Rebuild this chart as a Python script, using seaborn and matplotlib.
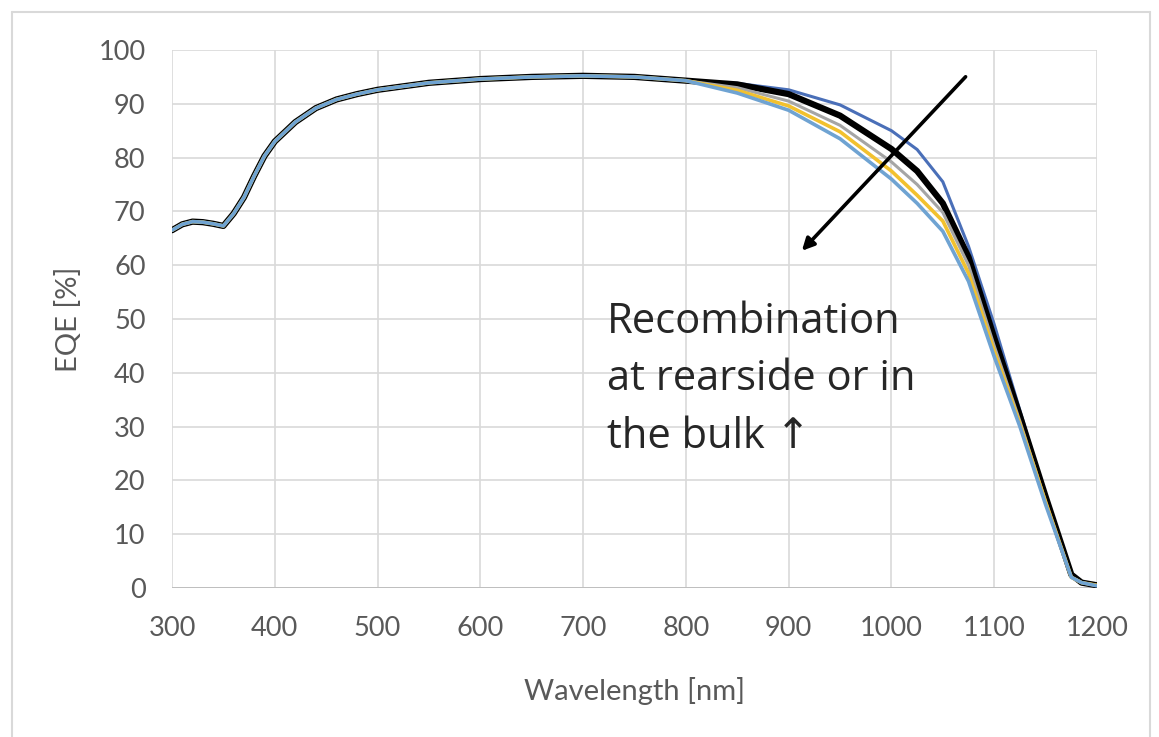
import matplotlib
matplotlib.use("Agg")
import matplotlib.pyplot as plt
import seaborn as sns
import pandas as pd
from matplotlib.lines import Line2D

# --- data ---
wavelength = [300, 310, 320, 330, 340, 350, 360, 370, 380, 390, 400, 420, 440, 460, 480,
              500, 550, 600, 650, 700, 750, 800,
              850, 900, 950, 1000, 1025, 1050, 1075, 1100, 1125, 1150, 1175, 1185, 1200]

# shared part of the curves (300-800 nm)
eqe_common = [66.5, 67.6, 68.1, 68.0, 67.7, 67.3, 69.6, 72.6, 76.6, 80.3, 83.0, 86.6, 89.2,
              90.8, 91.8, 92.6, 93.9, 94.6, 95.0, 95.2, 95.0, 94.3]

# long-wavelength tails (850-1200 nm), one per sample
tail_blue = [93.8, 92.6, 89.8, 85.0, 81.5, 75.5, 63.5, 49.0, 33.0, 17.0, 2.5, 1.0, 0.5]
tail_black = [93.6, 91.8, 87.8, 81.6, 77.5, 71.5, 61.5, 46.5, 32.0, 17.0, 2.5, 1.0, 0.5]
tail_gray = [93.0, 90.5, 86.0, 79.2, 75.0, 69.8, 60.0, 45.0, 31.0, 16.0, 2.0, 1.0, 0.5]
tail_gold = [92.5, 89.6, 84.8, 77.5, 73.0, 68.2, 58.5, 44.0, 30.5, 16.0, 2.0, 1.0, 0.5]
tail_lightblue = [92.0, 88.8, 83.5, 76.0, 71.5, 66.3, 57.0, 43.0, 30.0, 15.5, 2.0, 1.0, 0.4]

series = ["s1", "s2", "s3", "s4", "s5"]
tails = [tail_blue, tail_black, tail_gray, tail_gold, tail_lightblue]
colors = {"s1": "#4A6FB8", "s2": "#000000", "s3": "#A5A5A5", "s4": "#F2C12E", "s5": "#6FA3D2"}
widths = {"s1": 2.2, "s2": 4.5, "s3": 2.2, "s4": 2.6, "s5": 2.6}

rows = []
for name, tail in zip(series, tails):
    for wl, v in zip(wavelength, eqe_common + tail):
        rows.append({"wavelength": wl, "eqe": v, "sample": name})
df = pd.DataFrame(rows)

# --- figure ---
sns.set_theme(style="whitegrid")
plt.rcParams["font.family"] = ["Lato", "DejaVu Sans"]

fig = plt.figure(figsize=(11.59, 7.37), dpi=100)
ax = fig.add_axes([172 / 1159, 1 - 588 / 737, (1097 - 172) / 1159, (588 - 50) / 737])
ax.set_facecolor("white")

for name in series:
    sub = df[df["sample"] == name]
    sns.lineplot(data=sub, x="wavelength", y="eqe", ax=ax, color=colors[name],
                 linewidth=widths[name], legend=False)

ax.set_xlim(300, 1200)
ax.set_ylim(0, 100)
ax.set_xticks(range(300, 1201, 100))
ax.set_yticks(range(0, 101, 10))
ax.grid(True, color="#D9D9D9", linewidth=1.2)
for s in ax.spines.values():
    s.set_visible(False)
ax.axhline(0, color="#BFBFBF", linewidth=1.4, zorder=1)
ax.tick_params(axis="both", length=0, labelsize=19.5, colors="#595959")
ax.tick_params(axis="y", pad=19)
ax.tick_params(axis="x", pad=20)
ax.set_xlabel("Wavelength [nm]", fontsize=21, color="#595959", labelpad=26)
ax.set_ylabel("EQE [%]", fontsize=21, color="#595959", labelpad=12)

# annotation arrow and text
ax.annotate("", xy=(911, 62.3), xytext=(1074, 95.4),
            arrowprops=dict(arrowstyle="-|>,head_length=0.6,head_width=0.3",
                            color="black", lw=2.6))
txt_font = ["Open Sans", "DejaVu Sans"]
ax.text(723, 47.4, "Recombination", fontsize=30, color="#262626", family=txt_font, va="baseline")
ax.text(723, 36.8, "at rearside or in", fontsize=30, color="#262626", family=txt_font, va="baseline")
ax.text(723, 26.0, "the bulk \u2191", fontsize=30, color="#262626", family=txt_font, va="baseline")

# light frame around the chart
frame = "#D9D9D9"
fig.add_artist(Line2D([12 / 1159, 12 / 1159], [0, 1 - 12 / 737], color=frame, lw=1.5))
fig.add_artist(Line2D([12 / 1159, 1150 / 1159], [1 - 12 / 737, 1 - 12 / 737], color=frame, lw=1.5))
fig.add_artist(Line2D([1150 / 1159, 1150 / 1159], [0, 1 - 12 / 737], color=frame, lw=1.5))

fig.savefig("out.png", dpi=100, facecolor="white")
